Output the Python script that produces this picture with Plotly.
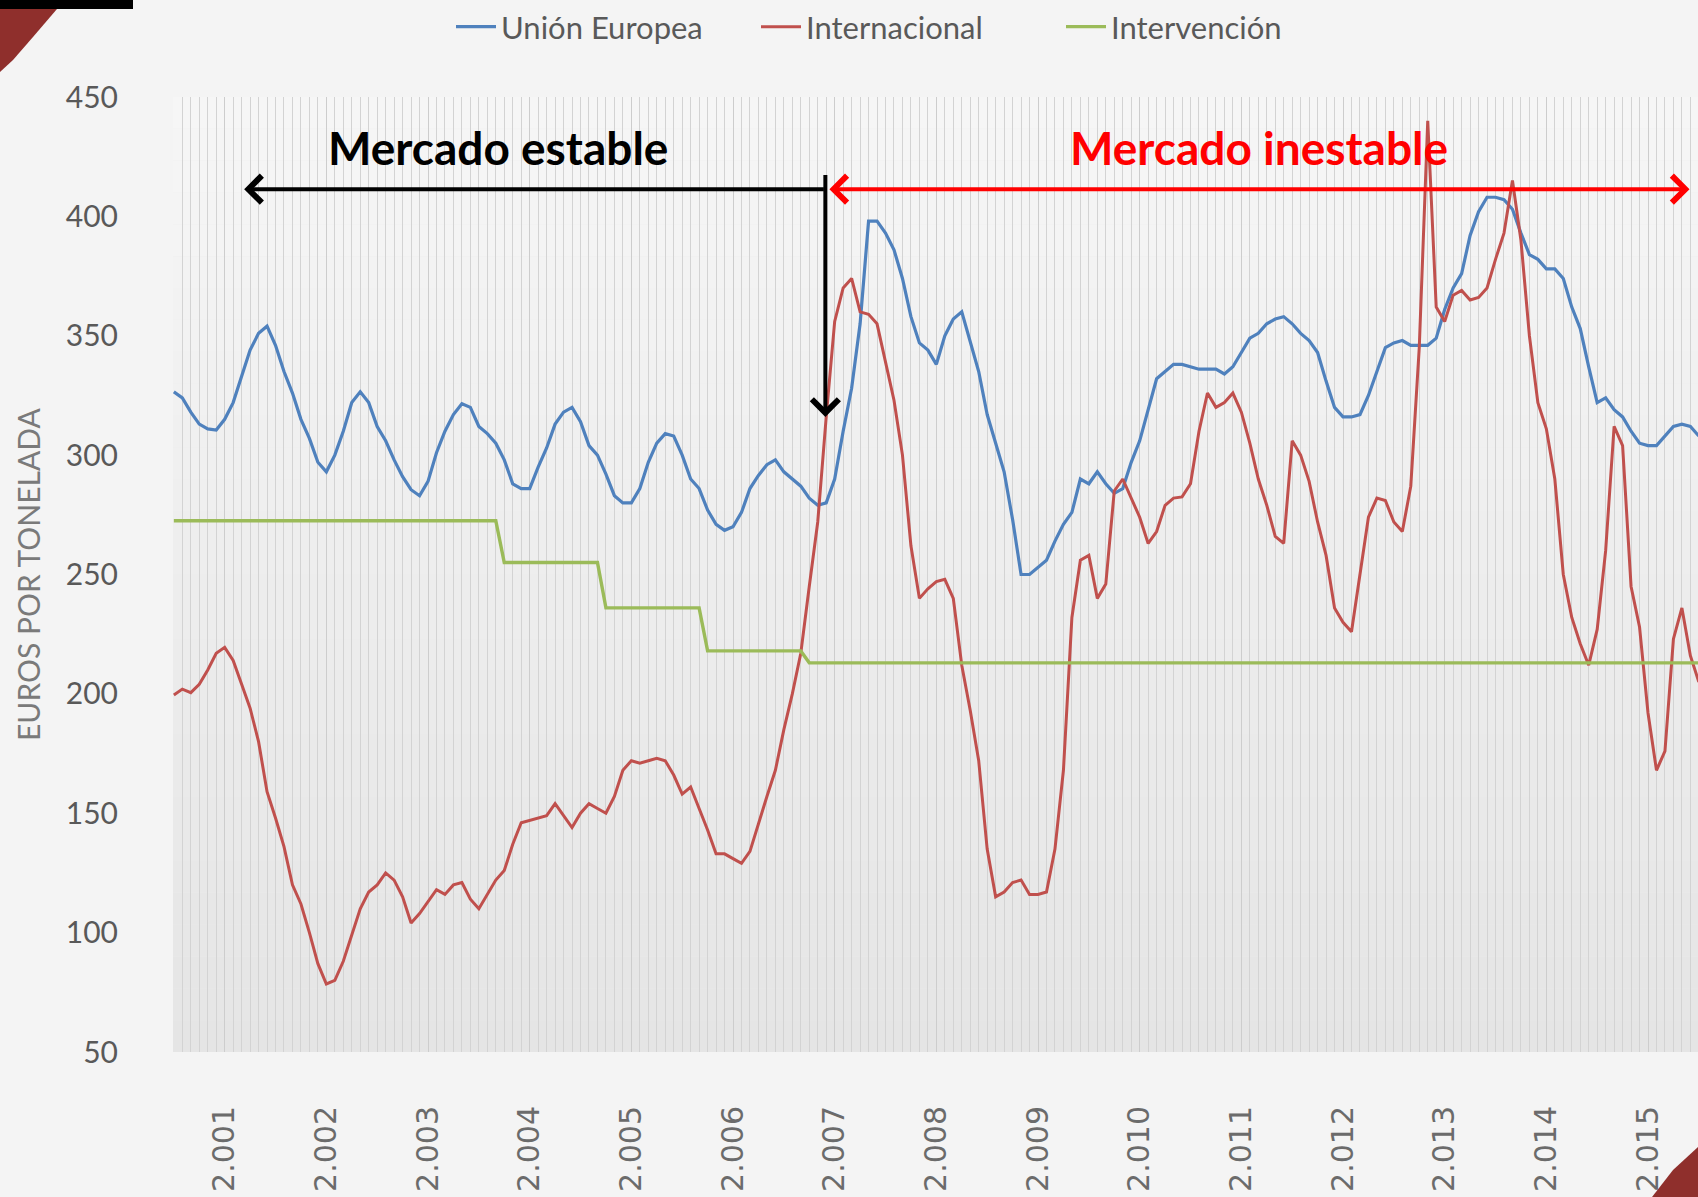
import plotly.graph_objects as go
import pandas as pd

# ---------------- data (monthly, Jul 2000 .. Jul 2015) ----------------
meses = [p.strftime("%Y-%m") for p in pd.period_range("2000-07", "2015-07", freq="M")]
etiquetas_anio = ["2.001", "2.002", "2.003", "2.004", "2.005", "2.006", "2.007", "2.008",
                  "2.009", "2.010", "2.011", "2.012", "2.013", "2.014", "2.015"]

union_europea = [
    326.5, 324, 318, 313, 311, 310.5,                                   # 2000 (jul-dic)
    315, 322, 333, 344, 351, 354, 346, 335, 326, 315, 307, 297,         # 2001
    293, 300, 310, 322, 326.5, 322, 312, 306, 298, 291, 285.5, 283,     # 2002
    289, 301, 310, 317, 321.5, 320, 312, 309, 305, 298, 288, 286,       # 2003
    286, 295, 303, 313, 318, 320, 314, 304, 300, 292, 283, 280,         # 2004
    280, 286, 297, 305, 309, 308, 300, 290, 286, 277, 271, 268.5,       # 2005
    270, 276, 286, 291.5, 296, 298, 293, 290, 287, 282, 279, 280,       # 2006
    290, 310, 328, 355, 398, 398, 393, 386, 374, 358, 347, 344,         # 2007
    338, 350, 357, 360, 347, 335, 317, 305, 293, 273, 250, 250,         # 2008
    253, 256, 264, 271, 276, 290, 288, 293, 288, 284, 286, 297,         # 2009
    306, 319, 332, 335, 338, 338, 337, 336, 336, 336, 334, 337,         # 2010
    343, 349, 351, 355, 357, 358, 355, 351, 348, 343, 331, 320,         # 2011
    316, 316, 317, 325, 335, 345, 347, 348, 346, 346, 346, 349,         # 2012
    361, 370, 376, 392, 402, 408, 408, 407, 403, 393, 384, 382,         # 2013
    378, 378, 374, 362, 353, 337, 322, 324, 319, 316, 310, 305,         # 2014
    304, 304, 308, 312, 313, 312, 308,                                  # 2015 (ene-jul)
]

internacional = [
    199.5, 202, 200.5, 204, 210, 217,                                   # 2000
    219.5, 214, 204, 194, 180, 159, 148, 136, 120, 112, 100, 87,        # 2001
    78.5, 80, 88, 99, 110, 117, 120, 125, 122, 115, 104, 108,           # 2002
    113, 118, 116, 120, 121, 114, 110, 116, 122, 126, 137, 146,         # 2003
    147, 148, 149, 154, 149, 144, 150, 154, 152, 150, 157, 168,         # 2004
    172, 171, 172, 173, 172, 166, 158, 161, 152, 143, 133, 133,         # 2005
    131, 129, 134, 146, 157, 168, 185, 200, 217, 245, 272, 316,         # 2006
    356, 370, 374, 360, 359, 355, 339, 323, 300, 262, 240, 244,         # 2007
    247, 248, 240, 212, 193, 172, 135, 115, 117, 121, 122, 116,         # 2008
    116, 117, 135, 168, 232, 256, 258, 240, 246, 285, 290, 282,         # 2009
    274, 263, 268, 279, 282, 282.5, 288, 310, 326, 320, 322, 326,       # 2010
    318, 305, 290, 279, 266, 263, 306, 300, 289, 272, 258, 236,         # 2011
    230, 226, 249, 274, 282, 281, 272, 268, 287, 345, 440, 362,         # 2012
    356, 367, 369, 365, 366, 370, 382, 393, 415, 390, 350, 322,         # 2013
    311, 290, 250, 232, 221, 212, 227, 260, 312, 304, 245, 228,         # 2014
    192, 168, 176, 223, 236, 216, 205,                                  # 2015
]

intervencion = [
    272.5, 272.5, 272.5, 272.5, 272.5, 272.5,                                             # 2000
    272.5, 272.5, 272.5, 272.5, 272.5, 272.5, 272.5, 272.5, 272.5, 272.5, 272.5, 272.5,   # 2001
    272.5, 272.5, 272.5, 272.5, 272.5, 272.5, 272.5, 272.5, 272.5, 272.5, 272.5, 272.5,   # 2002
    272.5, 272.5, 272.5, 272.5, 272.5, 272.5, 272.5, 272.5, 272.5, 255, 255, 255,         # 2003
    255, 255, 255, 255, 255, 255, 255, 255, 255, 236, 236, 236,                           # 2004
    236, 236, 236, 236, 236, 236, 236, 236, 236, 218, 218, 218,                           # 2005
    218, 218, 218, 218, 218, 218, 218, 218, 218, 213, 213, 213,                           # 2006
    213, 213, 213, 213, 213, 213, 213, 213, 213, 213, 213, 213,                           # 2007
    213, 213, 213, 213, 213, 213, 213, 213, 213, 213, 213, 213,                           # 2008
    213, 213, 213, 213, 213, 213, 213, 213, 213, 213, 213, 213,                           # 2009
    213, 213, 213, 213, 213, 213, 213, 213, 213, 213, 213, 213,                           # 2010
    213, 213, 213, 213, 213, 213, 213, 213, 213, 213, 213, 213,                           # 2011
    213, 213, 213, 213, 213, 213, 213, 213, 213, 213, 213, 213,                           # 2012
    213, 213, 213, 213, 213, 213, 213, 213, 213, 213, 213, 213,                           # 2013
    213, 213, 213, 213, 213, 213, 213, 213, 213, 213, 213, 213,                           # 2014
    213, 213, 213, 213, 213, 213, 213,                                                    # 2015
]

# ---------------- layout geometry ----------------
W, H = 1698, 1197
L, R, T, B = 173, 0, 97, 145
PW, PH = W - L - R, H - T - B


def pxx(xp):
    return (xp - L) / PW


def pyy(yp):
    return (H - B - yp) / PH


x = list(range(len(meses)))
tick_pos = [i for i, m in enumerate(meses) if m.endswith("-01")]

fig = go.Figure()
fig.add_trace(go.Scatter(x=x, y=union_europea, mode="lines", name="Unión Europea",
                         line=dict(color="#4f81bd", width=3.2), text=meses))
fig.add_trace(go.Scatter(x=x, y=internacional, mode="lines", name="Internacional",
                         line=dict(color="#c0504d", width=3.0), text=meses))
fig.add_trace(go.Scatter(x=x, y=intervencion, mode="lines", name="Intervención",
                         line=dict(color="#9bbb59", width=3.4), text=meses))

shapes = []
# gradient plot background (bands)
nb = 30
for i in range(nb):
    t = i / (nb - 1)
    c = int(round(229 + (246 - 229) * t))
    shapes.append(dict(type="rect", xref="paper", yref="paper",
                       x0=0, x1=1, y0=i / nb, y1=(i + 1) / nb,
                       fillcolor=f"rgb({c},{c},{c})", line=dict(width=0), layer="below"))
# slide decorations
red_dec = "#8f2f2c"
tl = [(0, 0), (62, 0), (57, 9), (33, 37), (13, 60), (0, 72)]
shapes.append(dict(type="path", xref="paper", yref="paper",
                   path="M " + " L ".join(f"{pxx(a):.5f},{pyy(b):.5f}" for a, b in tl) + " Z",
                   fillcolor=red_dec, line=dict(width=0)))
shapes.append(dict(type="rect", xref="paper", yref="paper",
                   x0=pxx(0), x1=pxx(133), y0=pyy(9), y1=pyy(0),
                   fillcolor="black", line=dict(width=0)))
br = [(1698, 1147), (1673, 1170), (1652, 1197), (1698, 1197)]
shapes.append(dict(type="path", xref="paper", yref="paper",
                   path="M " + " L ".join(f"{pxx(a):.5f},{pyy(b):.5f}" for a, b in br) + " Z",
                   fillcolor=red_dec, line=dict(width=0)))

annotations = [
    dict(text="EUROS POR TONELADA", xref="paper", yref="paper", x=pxx(28), y=pyy(575),
         textangle=-90, showarrow=False, xanchor="center", yanchor="middle",
         font=dict(family="Lato", size=30, color="#7a7a7a")),
    dict(text="<b>Mercado estable</b>", xref="x", yref="y", x=38.3, y=429,
         showarrow=False, xanchor="center", yanchor="middle",
         font=dict(family="Lato", size=46, color="black")),
    dict(text="<b>Mercado inestable</b>", xref="x", yref="y", x=128.1, y=429,
         showarrow=False, xanchor="center", yanchor="middle",
         font=dict(family="Lato", size=46, color="#ff0000")),
    # black horizontal arrow (left)
    dict(text="", xref="x", yref="y", axref="x", ayref="y", x=8.3, y=411.4, ax=76.9, ay=411.4,
         showarrow=True, arrowhead=4, arrowsize=1.3, arrowwidth=4, arrowcolor="black"),
    # black vertical arrow (down)
    dict(text="", xref="x", yref="y", axref="x", ayref="y", x=76.9, y=316, ax=76.9, ay=418,
         showarrow=True, arrowhead=4, arrowsize=1.3, arrowwidth=4, arrowcolor="black"),
    # red double arrow
    dict(text="", xref="x", yref="y", axref="x", ayref="y", x=178.9, y=411.4, ax=77.2, ay=411.4,
         showarrow=True, arrowside="end+start", arrowhead=4, startarrowhead=4,
         arrowsize=1.3, startarrowsize=1.3, arrowwidth=4, arrowcolor="#ff0000"),
]

fig.update_layout(
    width=W, height=H,
    margin=dict(l=L, r=R, t=T, b=B, pad=0),
    paper_bgcolor="#f4f4f4",
    plot_bgcolor="#ececec",
    shapes=shapes,
    annotations=annotations,
    showlegend=True,
    legend=dict(orientation="h", x=pxx(451), xanchor="left", y=pyy(27), yanchor="middle",
                font=dict(family="Lato", size=31, color="#595959"),
                bgcolor="rgba(0,0,0,0)", itemwidth=40, traceorder="normal",
                entrywidth=250, entrywidthmode="pixels"),
    xaxis=dict(range=[-0.1, 179.9], tickmode="array", tickvals=tick_pos, ticktext=etiquetas_anio,
               tickangle=-90, tickfont=dict(family="DejaVu Sans", size=30, color="#6b6b6b"),
               showgrid=True, gridcolor="#cdcdcd", gridwidth=1, zeroline=False, showline=False,
               ticks="", ticklabelstandoff=47,
               minor=dict(tickmode="linear", tick0=0, dtick=1, showgrid=True,
                          gridcolor="#d3d3d3", gridwidth=1)),
    yaxis=dict(range=[50, 450], tickmode="linear", tick0=50, dtick=50,
               tickfont=dict(family="Lato", size=30, color="#595959"),
               showgrid=False, zeroline=False, showline=False, ticks="", ticklabelstandoff=54),
)

fig.write_html("out.html", config={"displayModeBar": False},
               post_script="document.body.style.margin='0';")
